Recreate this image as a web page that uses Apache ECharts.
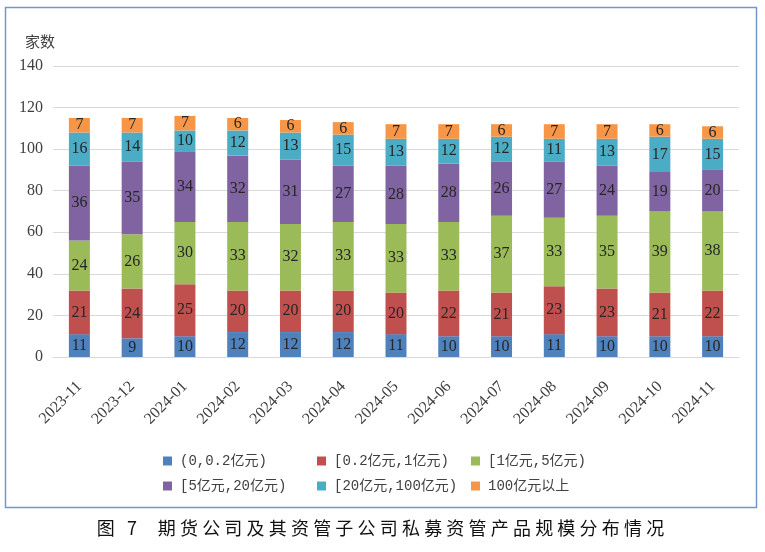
<!DOCTYPE html>
<html>
<head>
<meta charset="utf-8">
<script src="https://cdn.jsdelivr.net/npm/echarts@6/dist/echarts.min.js"></script>
<style>
  html, body { margin: 0; padding: 0; background: #fff; }
  #wrap { position: relative; width: 765px; height: 552px; }
  #chart { width: 765px; height: 552px; }
  #caption {
    position: absolute; left: 0; top: 514px; width: 765px; text-align: center;
    font-family: 'Noto Sans CJK SC', sans-serif; font-size: 18px; letter-spacing: 4.2px;
    color: #111; white-space: pre;
  }
</style>
</head>
<body>
<div id="wrap">
  <div id="chart"></div>
  <div id="caption">图 7  期货公司及其资管子公司私募资管产品规模分布情况</div>
</div>
<script>
// 月份
const months = ['2023-11', '2023-12', '2024-01', '2024-02', '2024-03', '2024-04', '2024-05',
  '2024-06', '2024-07', '2024-08', '2024-09', '2024-10', '2024-11']
const seriesNames = ['(0,0.2亿元)', '[0.2亿元,1亿元)', '[1亿元,5亿元)',
  '[5亿元,20亿元)', '[20亿元,100亿元)', '100亿元以上']
const sizeA = [11, 9, 10, 12, 12, 12, 11, 10, 10, 11, 10, 10, 10]
const sizeB = [21, 24, 25, 20, 20, 20, 20, 22, 21, 23, 23, 21, 22]
const sizeC = [24, 26, 30, 33, 32, 33, 33, 33, 37, 33, 35, 39, 38]
const sizeD = [36, 35, 34, 32, 31, 27, 28, 28, 26, 27, 24, 19, 20]
const sizeE = [16, 14, 10, 12, 13, 15, 13, 12, 12, 11, 13, 17, 15]
const sizeF = [7, 7, 7, 6, 6, 6, 7, 7, 6, 7, 7, 6, 6]
const yTicks = [0, 20, 40, 60, 80, 100, 120, 140]

const colors = ['#4f81bd', '#c0504d', '#9bbb59', '#8064a2', '#4bacc6', '#f79646']
const values = [sizeA, sizeB, sizeC, sizeD, sizeE, sizeF]
const serif = "'Liberation Serif', 'Noto Sans CJK SC', serif"

const chart = echarts.init(document.getElementById('chart'))

// 图例位置：两行三列
const legendPos = [
  [158, 449], [312, 449], [466, 449],
  [158, 474], [312, 474], [466, 474]
]

const option = {
  animation: false,
  color: colors,
  grid: { left: 53, right: 26, top: 66, bottom: 195 },
  legend: seriesNames.map((name, i) => ({
    data: [name],
    left: legendPos[i][0],
    top: legendPos[i][1],
    itemWidth: 9,
    itemHeight: 9,
    icon: 'rect',
    textStyle: {
      fontSize: 14,
      fontFamily: "'Liberation Mono', 'Noto Sans CJK SC', monospace",
      color: '#404040',
      padding: [0, 0, 0, 3]
    }
  })),
  xAxis: {
    type: 'category',
    data: months,
    axisLine: { lineStyle: { color: '#d9d9d9' } },
    axisTick: { show: false },
    axisLabel: {
      interval: 0,
      rotate: 45,
      margin: 27,
      fontSize: 16,
      fontFamily: serif,
      color: '#404040'
    }
  },
  yAxis: {
    type: 'value',
    min: yTicks[0],
    max: yTicks[yTicks.length - 1],
    interval: 20,
    axisLine: { show: false },
    axisTick: { show: false },
    axisLabel: { margin: 10, fontSize: 16, fontFamily: serif, color: '#404040' },
    splitLine: { lineStyle: { color: '#d9d9d9' } }
  },
  graphic: [
    {
      type: 'rect',
      shape: { x: 5.5, y: 7.5, width: 751, height: 500 },
      style: { fill: 'none', stroke: '#7397cc', lineWidth: 1.5 },
      silent: true
    },
    {
      type: 'text',
      left: 25,
      top: 34,
      style: { text: '家数', fontSize: 15, fontFamily: 'Noto Sans CJK SC', fill: '#404040' }
    }
  ],
  series: seriesNames.map((name, i) => ({
    name: name,
    type: 'bar',
    stack: 'total',
    barWidth: 21,
    data: values[i],
    label: {
      show: true,
      position: 'inside',
      fontSize: 16,
      fontFamily: serif,
      color: '#262626'
    }
  }))
}

chart.setOption(option)
</script>
</body>
</html>
